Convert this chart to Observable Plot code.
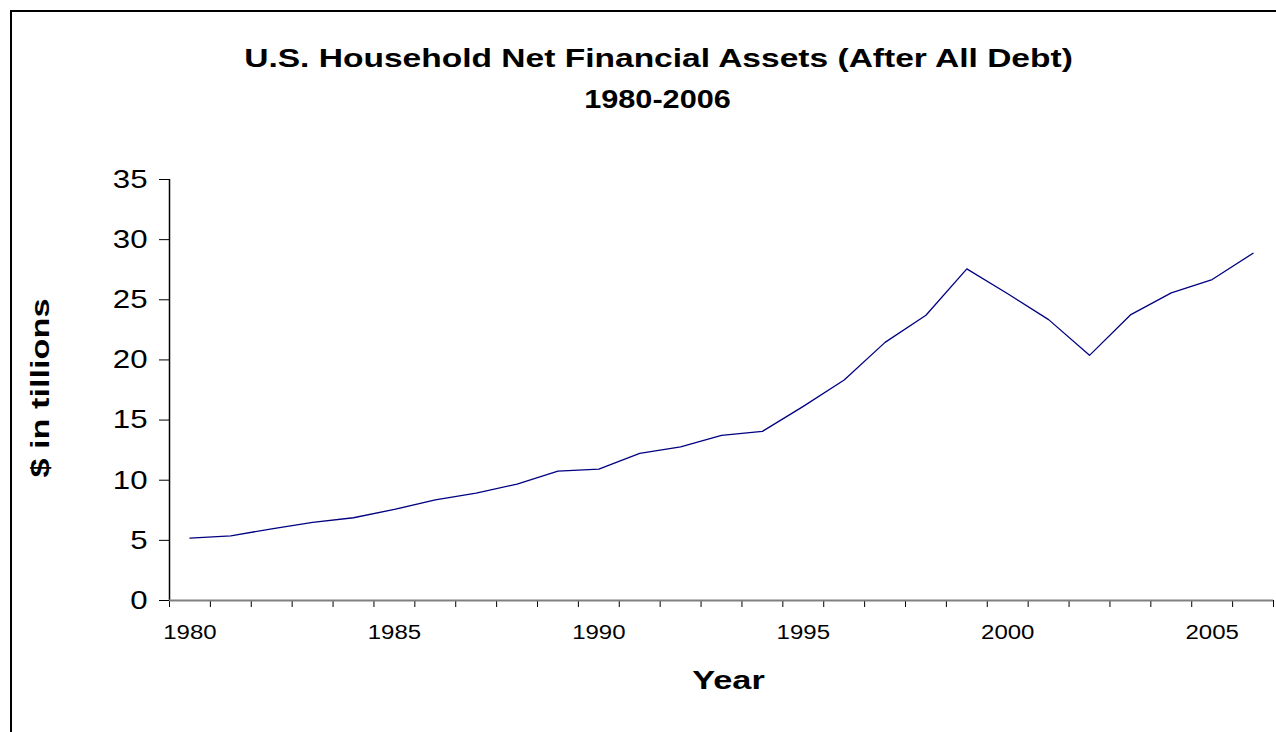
<!DOCTYPE html>
<html><head><meta charset="utf-8">
<script src="https://cdn.jsdelivr.net/npm/d3@7"></script>
<script src="https://cdn.jsdelivr.net/npm/@observablehq/plot@0.6"></script>
<style>
body{margin:0;background:#fff;overflow:hidden;}
#frame{position:absolute;left:10px;top:10px;width:1300px;height:800px;border:2px solid #000;box-sizing:border-box;}
#chart{position:absolute;left:0;top:0;}
</style></head><body>
<div id="frame"></div>
<div id="chart"></div>
<script>
const years = [1980,1981,1982,1983,1984,1985,1986,1987,1988,1989,1990,1991,1992,1993,1994,1995,1996,1997,1998,1999,2000,2001,2002,2003,2004,2005,2006];
const netAssets = [5.18,5.38,5.96,6.5,6.88,7.57,8.37,8.93,9.68,10.76,10.93,12.24,12.78,13.73,14.06,16.14,18.33,21.46,23.71,27.57,25.5,23.35,20.38,23.74,25.57,26.68,28.87];
const yTicks = [0,5,10,15,20,25,30,35];
const xLabelYears = [1980,1985,1990,1995,2000,2005];
const titleText = "U.S. Household Net Financial Assets (After All Debt)";
const subtitleText = "1980-2006";
const xTitle = "Year";
const yTitle = "$ in tillions";

const data = years.map((year, i) => ({year, value: netAssets[i]}));
const catEdges = d3.range(years[0] - 0.5, years[years.length - 1] + 1, 1);

const chart = Plot.plot({
  width: 1276, height: 732,
  marginLeft: 169, marginRight: 3, marginTop: 179, marginBottom: 132,
  x: {domain: [years[0] - 0.5, years[years.length - 1] + 0.5]},
  y: {domain: [0, 35]},
  style: {fontFamily: "'Liberation Sans', Arial, sans-serif", background: "transparent", color: "#000"},
  marks: [
    Plot.axisY({ticks: yTicks, tickSize: 10, tickPadding: 12, fontSize: 26, tickFormat: d => String(d), label: null, className: "s120"}),
    Plot.axisX({ticks: catEdges, tickSize: 7, tickFormat: () => "", label: null}),
    Plot.axisX({ticks: xLabelYears, tickSize: 0, tickPadding: 24, fontSize: 20, tickFormat: d => String(d), label: null, className: "s120"}),
    Plot.ruleX([years[0] - 0.5], {stroke: "#000", strokeWidth: 1.5}),
    Plot.ruleY([0], {stroke: "#808080", strokeWidth: 2}),
    Plot.line(data, {x: "year", y: "value", stroke: "#000080", strokeWidth: 1.3}),
    Plot.text([titleText], {frameAnchor: "top", dx: -63, dy: -131, fontSize: 26, fontWeight: "bold", fill: "#000", className: "s129"}),
    Plot.text([subtitleText], {frameAnchor: "top", dx: -64, dy: -90, fontSize: 26, fontWeight: "bold", fill: "#000", className: "s118"}),
    Plot.text([xTitle], {frameAnchor: "bottom", dx: 7, dy: 88, fontSize: 26, fontWeight: "bold", fill: "#000", className: "s132"}),
    Plot.text([yTitle], {frameAnchor: "left", textAnchor: "middle", dx: -129, dy: -2, rotate: -90, fontSize: 26, fontWeight: "bold", fill: "#000", className: "s132"})
  ]
});
document.getElementById("chart").appendChild(chart);
// the reference's glyphs are wider than Liberation Sans: widen texts along their baseline
const stretchOf = {s120: 1.2, s129: 1.29, s118: 1.18, s132: 1.32};
Object.entries(stretchOf).forEach(([cls, k]) => {
  d3.select(chart).selectAll("." + cls + " text").each(function() {
    if (!this.textContent) return;
    const len = this.getComputedTextLength();
    if (len > 0) {
      this.setAttribute("textLength", len * k);
      this.setAttribute("lengthAdjust", "spacingAndGlyphs");
    }
  });
});
</script>
</body></html>
